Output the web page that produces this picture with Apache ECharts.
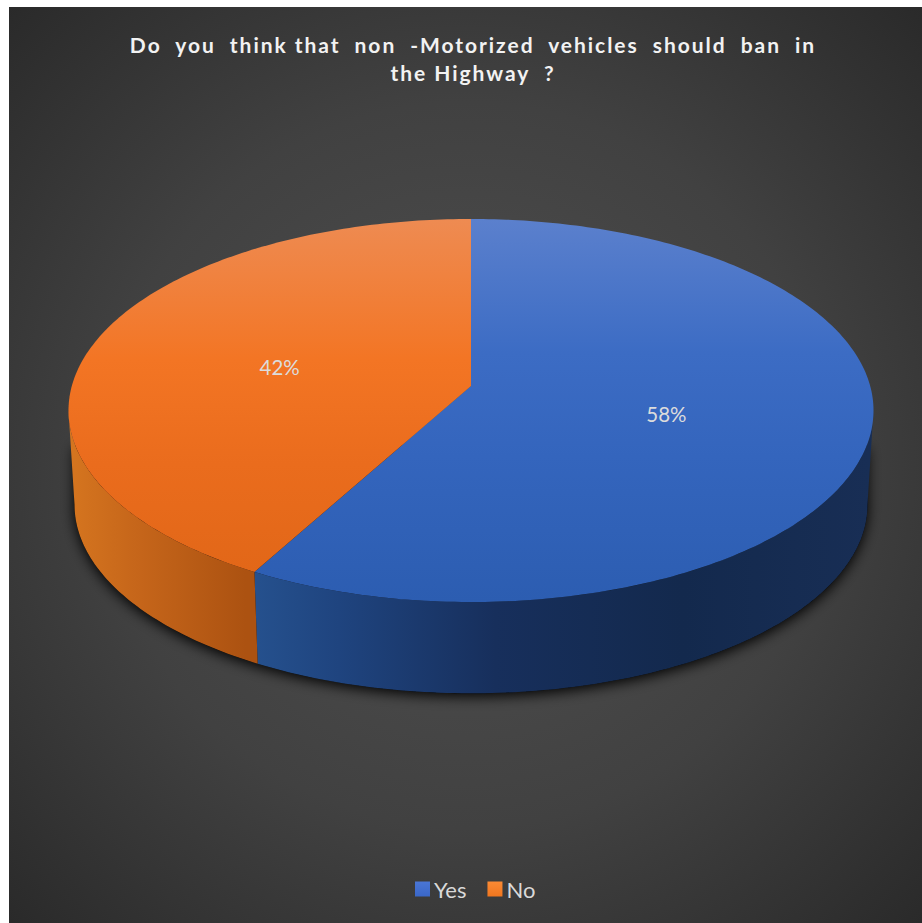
<!DOCTYPE html>
<html>
<head>
<meta charset="utf-8">
<style>
html,body{margin:0;padding:0;background:#fff}
#chart{width:922px;height:923px}
/* the bold heading is set with open tracking */
#chart text[style*="bold"]{letter-spacing:1.95px}
</style>
<script src="https://cdn.jsdelivr.net/npm/echarts@6/dist/echarts.min.js"></script>
</head>
<body>
<div id="chart"></div>
<script>
// Survey answers, in percent
const categories = ['Yes', 'No'];
const shares = [58, 42];
const chartTitle = 'Do  you  think that  non  -Motorized  vehicles  should  ban  in\nthe Highway  ?';

// Tilted disc: a perspective projection of a unit circle onto the page
const disc = { cx: 471, cy: 386, a: 399.2, b: 188.4, k: 0.1279 };
const wall = { dy: 94.5, shrink: 0.985 };

function project(theta, f) {
  const u = Math.sin(theta) * f, v = -Math.cos(theta) * f;
  const d = 1 - disc.k * v;
  return [disc.cx + disc.a * u / d, disc.cy + disc.b * v / d];
}
function projectBase(theta) {
  const p = project(theta, 1);
  return [disc.cx + (p[0] - disc.cx) * wall.shrink, disc.cy + (p[1] - disc.cy) * wall.shrink + wall.dy];
}
function arc(from, to, fn) {
  const n = Math.max(2, Math.ceil(Math.abs(to - from) * 60)), pts = [];
  for (let i = 0; i <= n; i++) pts.push(fn(from + (to - from) * i / n));
  return pts;
}
const total = shares.reduce((a, b) => a + b, 0);
const startOf = i => shares.slice(0, i).reduce((a, b) => a + b, 0) / total * Math.PI * 2;
// Where the rim turns from the back half to the front half of the disc
const rimStart = Math.acos(-disc.k), rimEnd = Math.PI * 2 - rimStart;

const grad = (x, y, x2, y2, stops) => ({
  type: 'linear', x, y, x2, y2, global: true,
  colorStops: stops.map(s => ({ offset: s[0], color: s[1] }))
});
const topFill = [
  grad(0, 219, 0, 602, [[0, '#5b80cd'], [0.35, '#3c6cc4'], [0.62, '#3465bd'], [1, '#2c5db1']]),
  grad(0, 219, 0, 570, [[0, '#ee8b52'], [0.4, '#f37524'], [0.7, '#ea6c1d'], [1, '#e26718']])
];
const sideFill = [
  grad(245, 0, 870, 0, [[0, '#26528f'], [0.15, '#1f447f'], [0.4, '#172f5c'], [0.7, '#13294d'], [1, '#182e55']]),
  grad(70, 0, 246, 0, [[0, '#d5751f'], [0.4, '#c5651a'], [1, '#ac5211']])
];
const swatch = [
  { type: 'linear', x: 0, y: 0, x2: 0, y2: 1, colorStops: [{ offset: 0, color: '#4a76d6' }, { offset: 1, color: '#3a67c8' }] },
  { type: 'linear', x: 0, y: 0, x2: 0, y2: 1, colorStops: [{ offset: 0, color: '#fb8a34' }, { offset: 1, color: '#f0761f' }] }
];

// One slice: its outer wall (front-facing part only), top face and percentage
function renderSlice(i) {
  return function (params, api) {
    const a0 = startOf(i), a1 = a0 + api.value(0) / total * Math.PI * 2;
    const lo = Math.max(a0, rimStart), hi = Math.min(a1, rimEnd);
    const mid = (a0 + a1) / 2, lp = project(mid, 0.5);
    return {
      type: 'group',
      children: [
        {
          type: 'polygon',
          shape: { points: arc(lo, hi, t => project(t, 1)).concat(arc(hi, lo, projectBase)) },
          style: { fill: sideFill[i] }
        },
        {
          type: 'polygon',
          shape: { points: [[disc.cx, disc.cy]].concat(arc(a0, a1, t => project(t, 1))) },
          style: { fill: topFill[i] }
        },
        {
          type: 'text', z2: 10,
          style: {
            x: lp[0] - 1, y: lp[1] + 4, text: api.value(0) + '%', fill: '#dcdcdc',
            font: '20.5px Lato, "Open Sans", sans-serif', textAlign: 'center', textVerticalAlign: 'middle'
          }
        }
      ]
    };
  };
}

// Soft contact shadow under the front of the disc only, so the back edge stays clean
function renderShadow() {
  const drop = 35;
  const a = project(rimStart, 0.985), b = project(rimEnd, 0.985);
  return {
    type: 'polygon',
    shape: { points: arc(rimStart, rimEnd, projectBase).concat([[b[0], b[1] + drop], [a[0], a[1] + drop]]) },
    style: { fill: '#0c0c0c', shadowBlur: 14, shadowColor: 'rgba(0,0,0,1)', shadowOffsetX: 0, shadowOffsetY: 3 }
  };
}

const chart = echarts.init(document.getElementById('chart'), null, { renderer: 'svg' });
chart.setOption({
  animation: false,
  backgroundColor: '#ffffff',
  graphic: [{
    type: 'rect', z: -10, silent: true,
    shape: { x: 9, y: 7, width: 913, height: 916 },
    style: {
      fill: {
        type: 'radial', x: 0.5, y: 0.5, r: 0.72,
        colorStops: [{ offset: 0, color: '#515151' }, { offset: 0.55, color: '#414141' }, { offset: 1, color: '#292929' }]
      }
    }
  }],
  title: {
    text: chartTitle, left: 468, top: 25, textAlign: 'center',
    textStyle: { color: '#f2f2f2', fontFamily: 'Lato, "Open Sans", sans-serif', fontWeight: 'bold', fontSize: 21, lineHeight: 28 }
  },
  legend: {
    data: categories, left: 415, top: 878, padding: 0, icon: 'rect', itemWidth: 15, itemHeight: 15, itemGap: 21,
    textStyle: { color: '#d9d9d9', fontFamily: 'Lato, "Open Sans", sans-serif', fontSize: 22, padding: [0, 0, 0, -1] }
  },
  series: [
    { type: 'custom', name: 'base', coordinateSystem: 'none', silent: true, z: 1, data: [total], renderItem: renderShadow },
    ...categories.map((name, i) => ({
      type: 'custom', name, coordinateSystem: 'none', z: 2 + i, silent: true,
      itemStyle: { color: swatch[i] }, data: [shares[i]], renderItem: renderSlice(i)
    }))
  ]
});
</script>
</body>
</html>
